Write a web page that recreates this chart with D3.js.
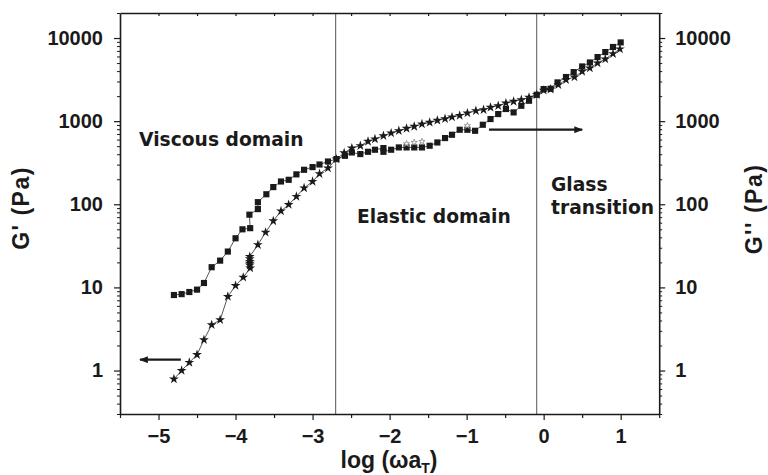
<!DOCTYPE html>
<html>
<head>
<meta charset="utf-8">
<script src="https://cdn.jsdelivr.net/npm/d3@7"></script>
<style>
  html, body { margin: 0; padding: 0; background: #fff; }
  svg { display: block; }
</style>
</head>
<body>
<svg id="chart" width="768" height="475"></svg>
<script>
// ---- Data ----
// G' (filled stars, left axis)
const gPrimeX = [-4.80,-4.70,-4.60,-4.50,-4.41,-4.31,-4.20,-4.10,-4.00,-3.90,-3.81,-3.815,-3.815,-3.815,-3.815,-3.815,
  -3.71,-3.61,-3.51,-3.41,-3.31,-3.21,-3.11,-3.00,-2.91,-2.80,-2.69,-2.59,-2.49,-2.38,-2.28,-2.19,-2.08,-1.98,-1.88,
  -1.78,-1.68,-1.58,-1.48,-1.38,-1.28,-1.19,-1.09,-0.99,-0.88,-0.78,-0.69,-0.59,-0.49,-0.39,-0.29,-0.19,-0.09,
  0.00,0.09,0.19,0.29,0.40,0.50,0.60,0.70,0.80,0.90,0.99];
const gPrimeY = [0.79,1.0,1.25,1.55,2.34,3.55,4.07,7.77,10.5,13.2,17.1,18.5,19.5,20.5,22,23.5,
  32.6,46,63,83,99,124,157,188,233,273,350,415,474,506,570,610,667,719,766,
  817,863,923,965,1020,1068,1120,1170,1250,1334,1371,1462,1531,1650,1725,1808,1927,2078,
  2350,2420,2740,3150,3395,3960,4350,5000,5590,6470,7380];

// G'' (filled squares, right axis)
const gDoubleX = [-4.80,-4.70,-4.60,-4.50,-4.41,-4.31,-4.20,-4.10,-4.00,-3.91,-3.81,-3.82,-3.71,-3.71,-3.60,-3.51,
  -3.41,-3.31,-3.21,-3.11,-3.00,-2.91,-2.80,-2.69,-2.58,-2.49,-2.38,-2.28,-2.19,-2.08,-2.08,-1.98,-1.88,-1.78,
  -1.68,-1.58,-1.48,-1.38,-1.28,-1.19,-1.09,-0.99,-0.89,-0.79,-0.69,-0.59,-0.49,-0.39,-0.29,-0.19,-0.09,
  0.00,0.09,0.18,0.29,0.39,0.50,0.60,0.70,0.80,0.90,1.00];
const gDoubleY = [8.1,8.3,8.8,9.4,11.3,17.5,21,27,39,50,51.6,75,87.5,106,132,161,
  188,197,229,260,280,301,327,350,383,420,402,428,453,474,428,453,483,483,
  483,483,506,554,626,686,788,788,766,905,1060,1217,1400,1274,1531,1760,2078,
  2430,2455,2925,3395,3890,4550,5080,5900,6780,7800,8850];

// small open stars
const openStarX = [-1.78,-1.68,-1.58,-0.99];
const openStarY = [535,554,570,880];

// domain boundaries
const boundaryX = [-2.7, -0.09];

// ticks
const xMajorTicks = [-5,-4,-3,-2,-1,0,1];
const xTickLabels = ["\u22125","\u22124","\u22123","\u22122","\u22121","0","1"];
const xMinorTicks = [-5.5,-4.5,-3.5,-2.5,-1.5,-0.5,0.5,1.5];
const yMajorTicks = [1,10,100,1000,10000];
const yTickLabels = ["1","10","100","1000","10000"];
const yMinorTicks = [0.3,0.4,0.5,0.6,0.7,0.8,0.9,
  2,3,4,5,6,7,8,9, 20,30,40,50,60,70,80,90, 200,300,400,500,600,700,800,900,
  2000,3000,4000,5000,6000,7000,8000,9000, 20000];

// annotation arrows (data coordinates)
const arrowLeft = {x1: -4.71, x2: -5.24, y: 1.35};
const arrowRight = {x1: -0.71, x2: 0.50, y: 789};

// ---- Drawing ----
const svg = d3.select("#chart");
const L = 120, R = 659.2, T = 13, B = 414;
const x = d3.scaleLinear().domain([-5.5, 1.5]).range([L, R]);
const y = d3.scaleLog().domain([0.3, 20000]).range([B, T]);

const ink = "#1a1a1a";
const tickFont = "'Liberation Sans', Arial, sans-serif";
const annFont = "'DejaVu Sans', Verdana, sans-serif";

// vertical boundary lines
svg.append("g").selectAll("line").data(boundaryX).join("line")
  .attr("x1", d => x(d)).attr("x2", d => x(d))
  .attr("y1", T).attr("y2", B)
  .attr("stroke", "#555").attr("stroke-width", 1);

function styleAxis(g) {
  g.select(".domain").attr("stroke", ink).attr("stroke-width", 1.6);
  g.selectAll(".tick line").attr("stroke", ink).attr("stroke-width", 1.2);
  g.selectAll("text").attr("fill", ink)
    .attr("font-family", tickFont).attr("font-weight", "bold").attr("font-size", 20);
}

// bottom axis
const gB = svg.append("g").attr("transform", `translate(0,${B})`)
  .call(d3.axisBottom(x).tickValues(xMajorTicks).tickSize(6).tickPadding(9)
    .tickFormat((d, i) => xTickLabels[i]).tickSizeOuter(0));
styleAxis(gB);
svg.append("g").attr("transform", `translate(0,${B})`)
  .call(d3.axisBottom(x).tickValues(xMinorTicks).tickSize(4).tickFormat("").tickSizeOuter(0))
  .call(g => { g.select(".domain").remove(); g.selectAll("line").attr("stroke", ink).attr("stroke-width", 1.2); });

// top axis (inward ticks)
const gT = svg.append("g").attr("transform", `translate(0,${T})`)
  .call(d3.axisTop(x).tickValues(xMajorTicks.concat(xMinorTicks.slice(1, -1))).tickSize(-3).tickFormat("").tickSizeOuter(0));
styleAxis(gT);

// left axis
const gL = svg.append("g").attr("transform", `translate(${L},0)`)
  .call(d3.axisLeft(y).tickValues(yMajorTicks).tickSize(6).tickPadding(11)
    .tickFormat((d, i) => yTickLabels[i]).tickSizeOuter(0));
styleAxis(gL);
svg.append("g").attr("transform", `translate(${L},0)`)
  .call(d3.axisLeft(y).tickValues(yMinorTicks).tickSize(3).tickFormat("").tickSizeOuter(0))
  .call(g => { g.select(".domain").remove(); g.selectAll("line").attr("stroke", ink).attr("stroke-width", 1); });

// right axis
const gR = svg.append("g").attr("transform", `translate(${R},0)`)
  .call(d3.axisRight(y).tickValues(yMajorTicks).tickSize(6).tickPadding(10)
    .tickFormat((d, i) => yTickLabels[i]).tickSizeOuter(0));
styleAxis(gR);
svg.append("g").attr("transform", `translate(${R},0)`)
  .call(d3.axisRight(y).tickValues(yMinorTicks).tickSize(3).tickFormat("").tickSizeOuter(0))
  .call(g => { g.select(".domain").remove(); g.selectAll("line").attr("stroke", ink).attr("stroke-width", 1); });

// series
const gpData = gPrimeX.map((v, i) => [v, gPrimeY[i]]);
const gdData = gDoubleX.map((v, i) => [v, gDoubleY[i]]);
const osData = openStarX.map((v, i) => [v, openStarY[i]]);
const line = d3.line().x(d => x(d[0])).y(d => y(d[1]));

svg.append("path").datum(gdData).attr("d", line)
  .attr("fill", "none").attr("stroke", "#444").attr("stroke-width", 0.9);
svg.append("path").datum(gpData).attr("d", line)
  .attr("fill", "none").attr("stroke", "#444").attr("stroke-width", 0.9);

svg.append("g").selectAll("path").data(gdData).join("path")
  .attr("transform", d => `translate(${x(d[0])},${y(d[1])})`)
  .attr("d", d3.symbol(d3.symbolSquare, 38))
  .attr("fill", ink);
svg.append("g").selectAll("path").data(gpData).join("path")
  .attr("transform", d => `translate(${x(d[0])},${y(d[1])})`)
  .attr("d", d3.symbol(d3.symbolStar, 30))
  .attr("fill", ink);
svg.append("g").selectAll("path").data(osData).join("path")
  .attr("transform", d => `translate(${x(d[0])},${y(d[1])})`)
  .attr("d", d3.symbol(d3.symbolStar, 12))
  .attr("fill", "#fff").attr("stroke", "#888").attr("stroke-width", 0.8);

// arrows
const defs = svg.append("defs");
defs.append("marker").attr("id", "ah").attr("viewBox", "0 0 10 8")
  .attr("refX", 9).attr("refY", 4).attr("markerWidth", 11).attr("markerHeight", 7)
  .attr("markerUnits", "userSpaceOnUse").attr("orient", "auto")
  .append("path").attr("d", "M0,0 L10,4 L0,8 Z").attr("fill", ink);
[arrowLeft, arrowRight].forEach(a => {
  svg.append("line")
    .attr("x1", x(a.x1)).attr("x2", x(a.x2))
    .attr("y1", y(a.y)).attr("y2", y(a.y))
    .attr("stroke", ink).attr("stroke-width", 2.2)
    .attr("marker-end", "url(#ah)");
});

// annotations
function ann(txt, px, py) {
  svg.append("text").attr("x", px).attr("y", py).text(txt)
    .attr("font-family", annFont).attr("font-weight", "bold")
    .attr("font-size", 18.7).attr("fill", ink);
}
ann("Viscous domain", 139, 146);
ann("Elastic domain", 357, 223);
ann("Glass", 551, 191);
ann("transition", 551, 214);

// axis titles
svg.append("text").attr("transform", "translate(29,208) rotate(-90)")
  .attr("text-anchor", "middle")
  .attr("font-family", tickFont).attr("font-weight", "bold").attr("font-size", 23)
  .attr("letter-spacing", 1.5).attr("fill", ink).text("G' (Pa)");
svg.append("text").attr("transform", "translate(762,209) rotate(-90)")
  .attr("text-anchor", "middle")
  .attr("font-family", tickFont).attr("font-weight", "bold").attr("font-size", 23)
  .attr("letter-spacing", 1.5).attr("fill", ink).text("G'' (Pa)");

const xt = svg.append("text").attr("x", 389).attr("y", 468)
  .attr("text-anchor", "middle")
  .attr("font-family", tickFont).attr("font-weight", "bold").attr("font-size", 23)
  .attr("fill", ink);
xt.append("tspan").text("log (\u03C9a");
xt.append("tspan").attr("font-size", 14).attr("dy", 5).text("T");
xt.append("tspan").attr("dy", -5).text(")");
</script>
</body>
</html>
